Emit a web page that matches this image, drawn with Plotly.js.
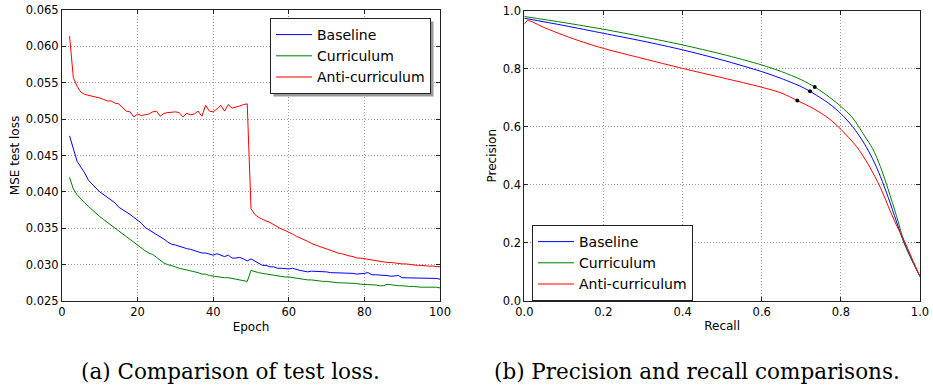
<!DOCTYPE html>
<html>
<head>
<meta charset="utf-8">
<script src="https://cdn.plot.ly/plotly-3.0.1.min.js"></script>
<style>
html,body{margin:0;padding:0;background:#fff;}
#chart{width:933px;height:386px;}
</style>
</head>
<body>
<div id="chart"></div>
<script>
// ---------- (a) test loss ----------
const epochs = [2,3,4,5,6,7,8,9,10,11,12,13,14,15,16,17,18,19,20,21,22,23,24,25,26,27,28,29,30,31,32,33,34,35,36,37,38,39,40,41,42,43,44,45,46,47,48,49,50,51,52,53,54,55,56,57,58,59,60,61,62,63,64,65,66,67,68,69,70,71,72,73,74,75,76,77,78,79,80,81,82,83,84,85,86,87,88,89,90,91,92,93,94,95,96,97,98,99,100];

const baselineLoss = [0.0477,0.0458,0.0442,0.0434,0.0426,0.0416,0.0410,0.0405,0.0400,0.0396,0.0392,0.0388,0.0385,0.0379,0.0376,0.0372,0.0369,0.0365,0.0361,0.0357,0.0351,0.0348,0.0345,0.0342,0.0338,0.0335,0.0331,0.0328,0.0327,0.0325,0.0324,0.0322,0.0321,0.0319,0.0317,0.0316,0.0316,0.0315,0.0313,0.0315,0.0313,0.0311,0.0313,0.0309,0.0309,0.0310,0.0308,0.0305,0.0308,0.0305,0.0302,0.0299,0.0299,0.0297,0.0297,0.0295,0.0295,0.0294,0.0294,0.0295,0.0293,0.0292,0.0291,0.0290,0.0291,0.0291,0.0291,0.0290,0.0290,0.0289,0.0289,0.0289,0.0289,0.0288,0.0288,0.0288,0.0287,0.0287,0.0288,0.0289,0.0286,0.0286,0.0286,0.0285,0.0285,0.0284,0.0285,0.0285,0.0282,0.0282,0.0282,0.0282,0.0282,0.0282,0.0281,0.0282,0.0281,0.0281,0.0280];

const curriculumLoss = [0.0420,0.0404,0.0396,0.0390,0.0385,0.0380,0.0375,0.0371,0.0366,0.0362,0.0358,0.0354,0.0350,0.0347,0.0343,0.0339,0.0335,0.0331,0.0327,0.0323,0.0319,0.0316,0.0314,0.0310,0.0306,0.0302,0.0300,0.0299,0.0297,0.0295,0.0294,0.0292,0.0291,0.0290,0.0289,0.0287,0.0287,0.0285,0.0284,0.0283,0.0283,0.0282,0.0282,0.0281,0.0280,0.0279,0.0278,0.0277,0.0292,0.0290,0.0289,0.0288,0.0287,0.0286,0.0285,0.0285,0.0284,0.0283,0.0283,0.0282,0.0281,0.0280,0.0280,0.0279,0.0279,0.0278,0.0277,0.0277,0.0277,0.0276,0.0276,0.0275,0.0275,0.0275,0.0274,0.0274,0.0274,0.0273,0.0273,0.0272,0.0273,0.0272,0.0271,0.0271,0.0273,0.0272,0.0272,0.0271,0.0271,0.0270,0.0270,0.0270,0.0269,0.0269,0.0269,0.0269,0.0270,0.0269,0.0268];

const antiLoss = [0.0614,0.0557,0.0545,0.0537,0.0534,0.0533,0.0532,0.0530,0.0529,0.0527,0.0525,0.0525,0.0522,0.0521,0.0516,0.0511,0.0510,0.0503,0.0507,0.0505,0.0506,0.0507,0.0510,0.0511,0.0504,0.0508,0.0509,0.0510,0.0510,0.0509,0.0503,0.0508,0.0506,0.0507,0.0511,0.0504,0.0519,0.0511,0.0510,0.0514,0.0519,0.0511,0.0520,0.0515,0.0516,0.0518,0.0520,0.0521,0.0377,0.0369,0.0365,0.0362,0.0360,0.0358,0.0355,0.0351,0.0349,0.0347,0.0345,0.0342,0.0339,0.0337,0.0334,0.0332,0.0329,0.0327,0.0325,0.0323,0.0322,0.0320,0.0318,0.0316,0.0315,0.0313,0.0312,0.0311,0.0309,0.0309,0.0308,0.0307,0.0306,0.0305,0.0304,0.0303,0.0303,0.0303,0.0302,0.0302,0.0301,0.0301,0.0300,0.0300,0.0299,0.0299,0.0298,0.0298,0.0298,0.0297,0.0297];

const lossTicks = [0.025,0.030,0.035,0.040,0.045,0.050,0.055,0.060,0.065];
const epochTicks = [0,20,40,60,80,100];

// ---------- (b) precision / recall ----------
const baselineRecall = [0,0.1,0.2,0.3,0.4,0.5,0.6,0.65,0.7,0.722,0.77,0.8,0.83,0.86,0.88,0.9,0.92,0.94,0.96,0.98,1.0];
const baselinePrecision = [0.974,0.949,0.922,0.895,0.865,0.830,0.790,0.766,0.738,0.722,0.680,0.645,0.600,0.540,0.490,0.428,0.355,0.275,0.198,0.138,0.083];

const curriculumRecall = [0,0.1,0.2,0.3,0.4,0.5,0.6,0.65,0.7,0.734,0.77,0.8,0.83,0.86,0.88,0.9,0.92,0.94,0.96,0.98,1.0];
const curriculumPrecision = [0.980,0.959,0.936,0.910,0.882,0.850,0.813,0.790,0.762,0.737,0.703,0.670,0.630,0.568,0.525,0.462,0.382,0.295,0.203,0.140,0.083];

const antiRecall = [0,0.008,0.05,0.1,0.15,0.2,0.3,0.4,0.5,0.6,0.65,0.69,0.73,0.77,0.8,0.84,0.87,0.9,0.92,0.94,0.96,0.98,1.0];
const antiPrecision = [0.953,0.966,0.942,0.915,0.891,0.870,0.835,0.801,0.769,0.736,0.716,0.690,0.663,0.628,0.591,0.531,0.468,0.390,0.325,0.262,0.208,0.145,0.083];

const dotRecall = [0.722,0.734,0.690];
const dotPrecision = [0.722,0.737,0.690];

const prTicks = [0,0.2,0.4,0.6,0.8,1.0];

const seriesNames = ['Baseline','Curriculum','Anti-curriculum'];
const seriesColors = ['#0000ff','#008000','#ff0000'];

const captions = ['(a) Comparison of test loss.','(b) Precision and recall comparisons.'];

// ---------- build ----------
const font = {family:'DejaVu Sans, sans-serif', size:11.5, color:'#000'};
const lossSeries = [baselineLoss, curriculumLoss, antiLoss];
const prSeries = [[baselineRecall,baselinePrecision],[curriculumRecall,curriculumPrecision],[antiRecall,antiPrecision]];

const traces = [];
lossSeries.forEach((s,i)=>{
  traces.push({x:epochs,y:s,type:'scatter',mode:'lines',name:seriesNames[i],
    line:{color:seriesColors[i],width:1},xaxis:'x',yaxis:'y',legend:'legend'});
});
prSeries.forEach((s,i)=>{
  traces.push({x:s[0],y:s[1],type:'scatter',mode:'lines',name:seriesNames[i],
    line:{color:seriesColors[i],width:1,shape:'spline',smoothing:0.8},xaxis:'x2',yaxis:'y2',legend:'legend2'});
});
traces.push({x:dotRecall,y:dotPrecision,type:'scatter',mode:'markers',showlegend:false,
  marker:{color:'#000',size:4},xaxis:'x2',yaxis:'y2'});

const W=933,H=386;
const px = v=>v/W, py = v=>1-v/H;

const axisCommon = {
  showline:true, mirror:'ticks', linecolor:'#222', linewidth:1,
  ticks:'inside', ticklen:4, tickcolor:'#222',
  showgrid:true, gridcolor:'#9a9a9a', griddash:'1px,2px', gridwidth:1,
  zeroline:false, tickfont:font, automargin:false
};

const legendCommon = {xanchor:'left', yanchor:'top', bgcolor:'#fff', bordercolor:'#222', borderwidth:1,
  font:{family:font.family,size:14,color:'#000'}, tracegroupgap:0, itemwidth:36};

const layout = {
  width:W, height:H,
  margin:{l:0,r:0,t:0,b:0},
  paper_bgcolor:'#fff', plot_bgcolor:'#fff',
  font:font,
  xaxis:Object.assign({}, axisCommon, {domain:[px(62),px(440)], range:[0,100], tickvals:epochTicks,
    anchor:'y', title:{text:'Epoch', font:{family:font.family,size:12}, standoff:4}}),
  yaxis:Object.assign({}, axisCommon, {domain:[py(301),py(10)], range:[0.025,0.065], tickvals:lossTicks,
    tickformat:'.3f', anchor:'x', title:{text:'MSE test loss', font:{family:font.family,size:12}, standoff:3}}),
  xaxis2:Object.assign({}, axisCommon, {domain:[px(524.3),px(920)], range:[0,1], tickvals:prTicks,
    tickformat:'.1f', anchor:'y2', title:{text:'Recall', font:{family:font.family,size:12}, standoff:4}}),
  yaxis2:Object.assign({}, axisCommon, {domain:[py(300.7),py(10.7)], range:[0,1], tickvals:prTicks,
    tickformat:'.1f', anchor:'x2', title:{text:'Precision', font:{family:font.family,size:12}, standoff:3}}),
  legend:Object.assign({}, legendCommon, {x:px(270), y:py(18)}),
  legend2:Object.assign({}, legendCommon, {x:px(532), y:py(225)}),
  annotations:[
    {text:captions[0], xref:'paper', yref:'paper', x:px(230), y:py(371), xanchor:'center', yanchor:'middle', showarrow:false,
      font:{family:'DejaVu Serif, serif', size:21.5, color:'#000'}},
    {text:captions[1], xref:'paper', yref:'paper', x:px(697), y:py(371), xanchor:'center', yanchor:'middle', showarrow:false,
      font:{family:'DejaVu Serif, serif', size:21.5, color:'#000'}}
  ]
};

Plotly.newPlot('chart', traces, layout, {displayModeBar:false, staticPlot:true}).then(gd=>{
  // legend drop shadows, placed from the rendered legend boxes
  const root = gd.getBoundingClientRect();
  const shapes = [];
  gd.querySelectorAll('.legend .bg').forEach(bg=>{
    const r = bg.getBoundingClientRect();
    const l = r.left-root.left+3, t = r.top-root.top+3;
    shapes.push({type:'rect', xref:'paper', yref:'paper', layer:'above',
      x0:px(l), x1:px(l+r.width), y0:py(t+r.height), y1:py(t),
      fillcolor:'#9a9a9a', line:{width:0}});
  });
  return Plotly.relayout(gd, {shapes:shapes});
});
</script>
</body>
</html>
